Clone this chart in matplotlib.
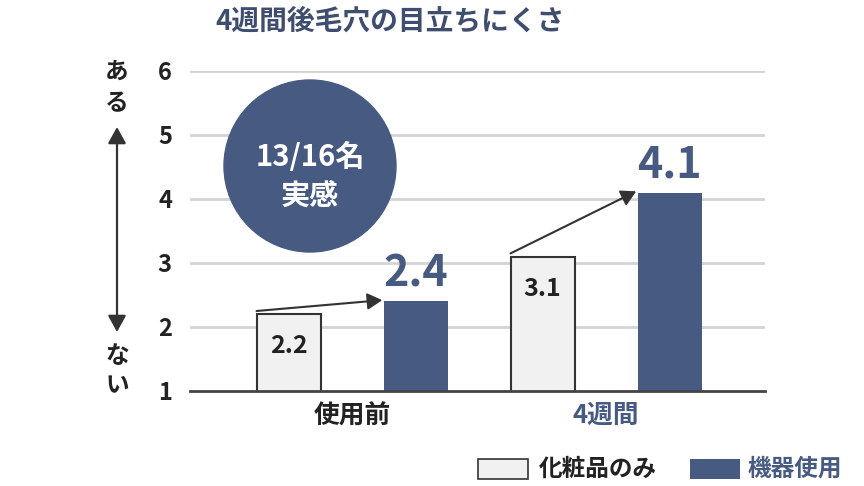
import matplotlib
matplotlib.use("Agg")
import matplotlib.pyplot as plt
from matplotlib.patches import Circle, Rectangle, FancyArrowPatch
from matplotlib.transforms import IdentityTransform
import numpy as np

plt.rcParams['font.family'] = ['Noto Sans CJK JP', 'DejaVu Sans']

categories = ["使用前", "4週間"]
cosmetic_only = [2.2, 3.1]
device_use = [2.4, 4.1]
series_names = ["化粧品のみ", "機器使用"]
yticks = [1, 2, 3, 4, 5, 6]
title = "4週間後毛穴の目立ちにくさ"
badge_lines = ["13/16名", "実感"]

BLUE = "#475a82"
TITLE_BLUE = "#3f4e6e"
GRAY = "#f1f1f1"
DARK = "#222222"

fig = plt.figure(figsize=(8.64, 4.86), dpi=100)
ax = fig.add_axes([190/864, 1-391/486, 575/864, 320/486])

x = np.arange(len(categories))
w = 0.252
off = 0.25
ax.bar(x - off, cosmetic_only, w, bottom=0, color=GRAY, edgecolor="#333333", linewidth=1.5, zorder=3)
ax.bar(x + off, device_use, w, bottom=0, color=BLUE, edgecolor=BLUE, linewidth=0, zorder=3)

ax.set_ylim(1, 6)
ax.set_xlim(-0.638, 1.626)
ax.set_yticks(yticks)
ax.set_yticklabels([str(t) for t in yticks], fontsize=17, fontweight="bold", color=DARK)
ax.tick_params(axis="y", length=0, pad=13)
ax.set_xticks(x)
ax.set_xticklabels(categories, fontsize=18.5, fontweight="bold")
ax.get_xticklabels()[0].set_color(DARK)
ax.get_xticklabels()[1].set_color(BLUE)
ax.tick_params(axis="x", length=0, pad=8)
for s in ["top", "right", "left"]:
    ax.spines[s].set_visible(False)
ax.spines["bottom"].set_color("#444444")
ax.spines["bottom"].set_linewidth(2)
ax.spines["bottom"].set_zorder(5)
for t in yticks[1:]:
    ax.axhline(t, color="#d4d4d4", linewidth=2, zorder=1)

# value labels
for xi, v in zip(x, cosmetic_only):
    ax.text(xi - off, v - 0.5, f"{v}", ha="center", va="center", fontsize=18, fontweight="bold", color=DARK, zorder=4)
for xi, v in zip(x, device_use):
    ax.text(xi + off, v + 0.44, f"{v}", ha="center", va="center", fontsize=31, fontweight="bold", color=BLUE, zorder=4)

# arrows between bars
for xi, v1, v2 in zip(x, cosmetic_only, device_use):
    arr = FancyArrowPatch((xi - off - w/2, v1 + 0.05), (xi + off - w/2 - 0.005, v2 + 0.02),
                          arrowstyle="-|>,head_length=9,head_width=5", color="#333333",
                          linewidth=1.5, mutation_scale=1, zorder=6, shrinkA=0, shrinkB=0)
    ax.add_patch(arr)

# title
fig.text(390/864, 1-22/486, title, ha="center", va="center", fontsize=20, fontweight="bold", color=TITLE_BLUE)

# badge
circ = Circle((310, 486-166), 86, transform=IdentityTransform(), color=BLUE, zorder=10)
fig.add_artist(circ)
fig.text(310/864, 1-157/486, badge_lines[0], ha="center", va="center", fontsize=21, fontweight="bold", color="white", zorder=11)
fig.text(310/864, 1-196/486, badge_lines[1], ha="center", va="center", fontsize=21, fontweight="bold", color="white", zorder=11)

# left vertical labels
for ch, yy in [("あ", 72), ("る", 103), ("な", 356), ("い", 385)]:
    fig.text(117/864, 1-yy/486, ch, ha="center", va="center", fontsize=17, fontweight="bold", color=DARK)
varr = FancyArrowPatch((117, 486-127), (117, 486-332), transform=IdentityTransform(),
                       arrowstyle="<|-|>,head_length=10,head_width=5.5", color="#333333",
                       linewidth=1.6, mutation_scale=1, shrinkA=0, shrinkB=0)
fig.add_artist(varr)

# legend
fig.add_artist(Rectangle((478, 486-479), 50, 20, transform=IdentityTransform(),
                         facecolor=GRAY, edgecolor="#333333", linewidth=1.2))
fig.text(539/864, 1-469/486, series_names[0], ha="left", va="center", fontsize=17, fontweight="bold", color=DARK)
fig.add_artist(Rectangle((690, 486-479), 50, 20, transform=IdentityTransform(),
                         facecolor=BLUE, edgecolor=BLUE, linewidth=0))
fig.text(748/864, 1-469/486, series_names[1], ha="left", va="center", fontsize=17, fontweight="bold", color=BLUE)

fig.savefig("out.png", dpi=100)
